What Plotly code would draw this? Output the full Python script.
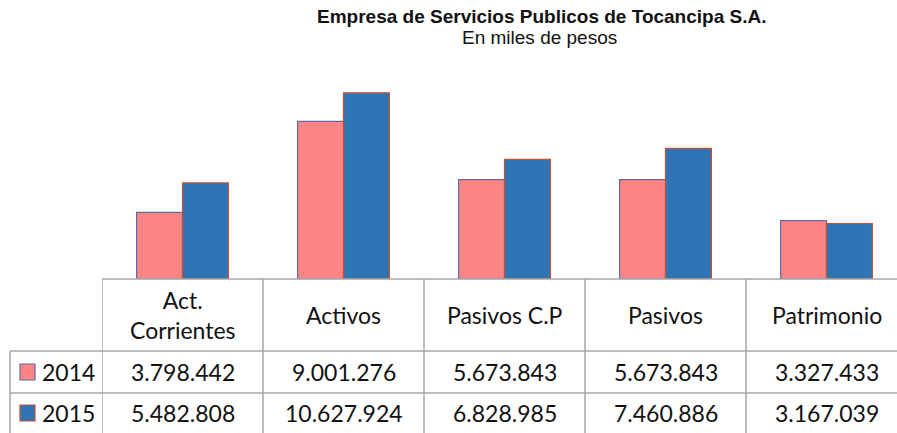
import plotly.graph_objects as go

# data ------------
categories = ['Act.<br>Corrientes', 'Activos', 'Pasivos C.P', 'Pasivos', 'Patrimonio']
years = ['2014', '2015']
values_2014 = [3798442, 9001276, 5673843, 5673843, 3327433]
values_2015 = [5482808, 10627924, 6828985, 7460886, 3167039]

fills = ['#FF8585', '#2E75B6']
borders = ['#5B6BAA', '#C8502E']
grid = '#A6A6A6'
cell_font = dict(family='Lato, Carlito, sans-serif', size=23, color='#111111')
title_font = dict(family='Liberation Sans, Arial', size=19, color='#111111')

W, H = 897, 433
L, T, B = 102, 60, 154
plot_h = H - T - B
cat_w = 161


def fmt(v):
    return f'{v:,}'.replace(',', '.')


def px_x(p):
    # pixel -> paper x
    return (p - L) / (W - L)


def px_y(p):
    # pixel -> paper y
    return (H - B - p) / plot_h


fig = go.Figure()
for name, vals, fc, bc in zip(years, [values_2014, values_2015], fills, borders):
    fig.add_trace(go.Bar(x=list(range(len(categories))), y=vals, name=name,
                         marker=dict(color=fc, line=dict(color=bc, width=1.2))))

x_max = (W - L) / cat_w - 0.5
fig.update_layout(
    width=W, height=H,
    margin=dict(l=L, r=0, t=T, b=B),
    plot_bgcolor='white', paper_bgcolor='white',
    barmode='group', bargap=0.43, bargroupgap=0,
    showlegend=False,
    xaxis=dict(range=[-0.5, x_max], showticklabels=False, showgrid=False,
               zeroline=False, showline=False, ticks=''),
    yaxis=dict(range=[0, 12.5e6], visible=False),
)

shapes = []
row_lines = [279, 351, 393, H]
# baseline / top of table
shapes.append(dict(type='line', xref='paper', yref='paper', x0=0, x1=1,
                   y0=px_y(row_lines[0]), y1=px_y(row_lines[0]),
                   line=dict(color=grid, width=1.5)))
for r in row_lines[1:3]:
    shapes.append(dict(type='line', xref='paper', yref='paper', x0=px_x(10), x1=1,
                       y0=px_y(r), y1=px_y(r), line=dict(color=grid, width=1.5)))
# vertical cell borders
for i in range(len(categories) + 1):
    shapes.append(dict(type='line', xref='x', yref='paper', x0=i - 0.5, x1=i - 0.5,
                       y0=px_y(row_lines[0]), y1=px_y(H + 5),
                       line=dict(color=grid, width=1.5)))
shapes.append(dict(type='line', xref='paper', yref='paper', x0=px_x(10), x1=px_x(10),
                   y0=px_y(row_lines[1]), y1=px_y(H + 5), line=dict(color=grid, width=1.5)))

annotations = []
for i, c in enumerate(categories):
    annotations.append(dict(x=i, y=px_y(315), xref='x', yref='paper', text=c,
                            showarrow=False, font=cell_font, align='center',
                            xanchor='center', yanchor='middle'))
for r, (name, vals, fc, bc) in enumerate(zip(years, [values_2014, values_2015], fills, borders)):
    yc = (row_lines[r + 1] + row_lines[r + 2]) / 2
    for i, v in enumerate(vals):
        annotations.append(dict(x=i, y=px_y(yc), xref='x', yref='paper', text=fmt(v),
                                showarrow=False, font=cell_font,
                                xanchor='center', yanchor='middle'))
    annotations.append(dict(x=px_x(40), y=px_y(yc), xref='paper', yref='paper', text=name,
                            showarrow=False, font=cell_font, xanchor='left', yanchor='middle'))
    shapes.append(dict(type='rect', xref='paper', yref='paper',
                       x0=px_x(20), x1=px_x(35), y0=px_y(yc - 8), y1=px_y(yc + 8),
                       fillcolor=fc, line=dict(color=bc, width=1.2)))

annotations.append(dict(x=px_x(541), y=px_y(17), xref='paper', yref='paper',
                        text='<b>Empresa de Servicios Publicos de Tocancipa S.A.</b>',
                        showarrow=False, font=title_font,
                        xanchor='center', yanchor='middle'))
annotations.append(dict(x=px_x(539), y=px_y(38), xref='paper', yref='paper',
                        text='En miles de pesos', showarrow=False, font=title_font,
                        xanchor='center', yanchor='middle'))

fig.update_layout(shapes=shapes, annotations=annotations)
fig.write_html('out.html', config={'displayModeBar': False},
               post_script="document.body.style.margin='0';")
